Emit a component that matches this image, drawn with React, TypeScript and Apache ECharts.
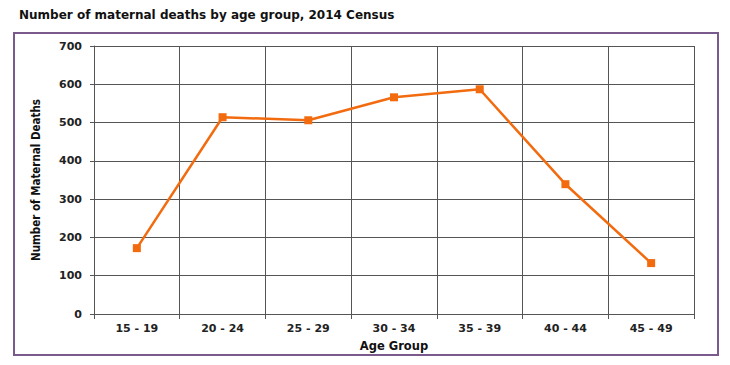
import React, { useEffect, useRef } from "react";
import * as echarts from "echarts";

const categories = ["15 - 19", "20 - 24", "25 - 29", "30 - 34", "35 - 39", "40 - 44", "45 - 49"];
const deaths = [172, 514, 506, 566, 587, 339, 133];
const yTicks = [0, 100, 200, 300, 400, 500, 600, 700];

export default function App() {
  const ref = useRef<HTMLDivElement>(null);
  useEffect(() => {
    document.body.style.margin = "0";
    const chart = echarts.init(ref.current!, null, { renderer: "svg" });
    const font = "'DejaVu Sans', sans-serif";
    chart.setOption({
      animation: false,
      backgroundColor: "#ffffff",
      title: {
        text: "Number of maternal deaths by age group, 2014 Census",
        left: 14,
        top: 4,
        textStyle: { fontFamily: font, fontSize: 12, fontWeight: "bold", color: "#111" },
      },
      graphic: [
        {
          type: "rect",
          shape: { x: 14, y: 33, width: 704, height: 322 },
          style: { fill: "none", stroke: "#7a5a8c", lineWidth: 2 },
          silent: true,
        },
      ],
      grid: { left: 94, right: 36, top: 46, bottom: 51 },
      xAxis: {
        type: "category",
        data: categories,
        boundaryGap: true,
        name: "Age Group",
        nameLocation: "middle",
        nameGap: 26,
        nameTextStyle: { fontFamily: font, fontSize: 11.5, fontWeight: "bold", color: "#111" },
        axisLine: { lineStyle: { color: "#555", width: 1 } },
        axisTick: { show: true, length: 5, lineStyle: { color: "#555" } },
        axisLabel: { fontFamily: font, fontSize: 11, fontWeight: "bold", color: "#222", margin: 9 },
        splitLine: { show: true, lineStyle: { color: "#555", width: 1 } },
      },
      yAxis: {
        type: "value",
        min: yTicks[0],
        max: yTicks[yTicks.length - 1],
        interval: 100,
        name: "Number of Maternal Deaths",
        nameLocation: "middle",
        nameGap: 52,
        nameTextStyle: { fontFamily: "'Liberation Sans Narrow', 'DejaVu Sans Condensed', sans-serif", fontSize: 11.5, fontWeight: "bold", color: "#111" },
        axisLine: { show: true, lineStyle: { color: "#555", width: 1 } },
        axisTick: { show: true, length: 4, lineStyle: { color: "#555" } },
        axisLabel: { fontFamily: font, fontSize: 11, fontWeight: "bold", color: "#222", margin: 12 },
        splitLine: { show: true, lineStyle: { color: "#555", width: 1 } },
      },
      series: [
        {
          type: "line",
          data: deaths,
          symbol: "rect",
          symbolSize: 8,
          lineStyle: { color: "#f26b0f", width: 2.5 },
          itemStyle: { color: "#f26b0f" },
        },
      ],
    });
    return () => chart.dispose();
  }, []);
  return <div ref={ref} style={{ width: 730, height: 365 }} />;
}
